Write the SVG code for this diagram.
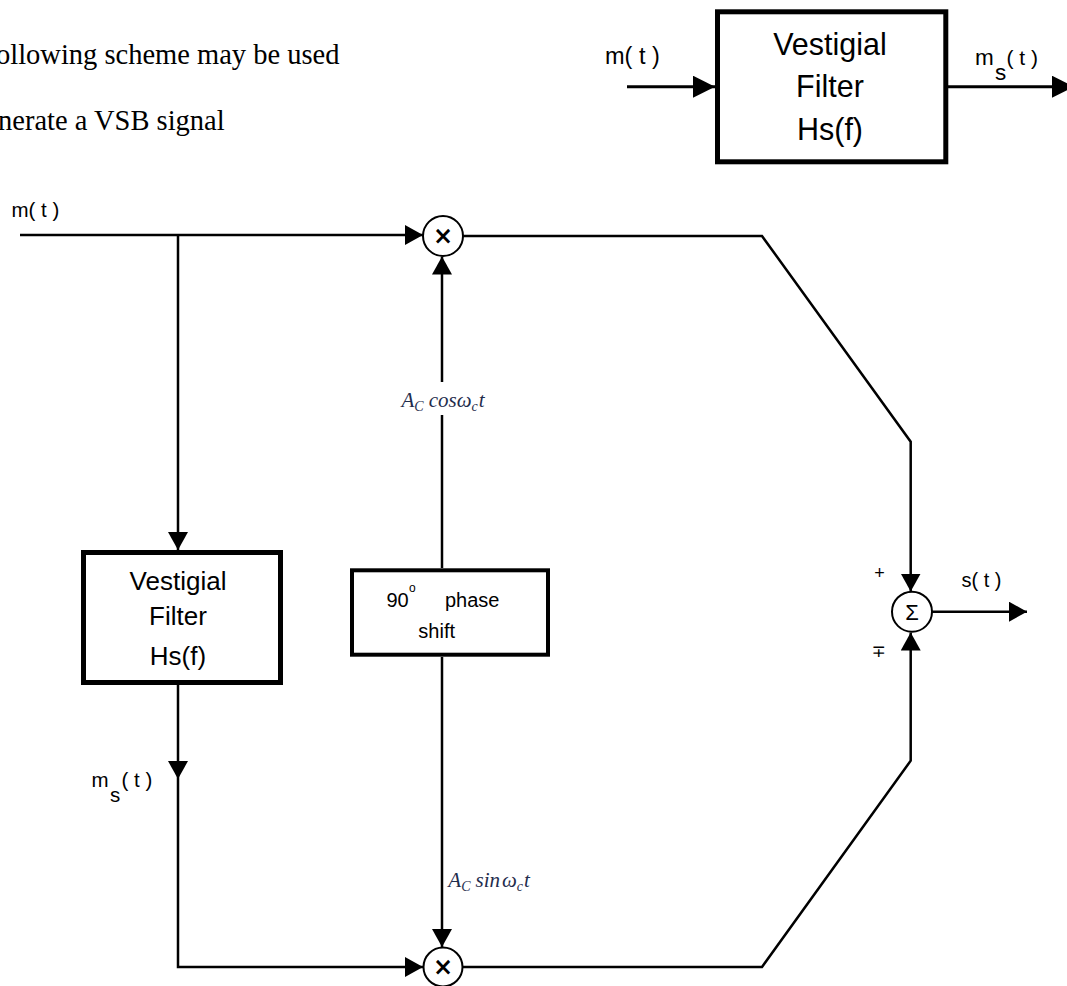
<svg xmlns="http://www.w3.org/2000/svg" width="1067" height="986" viewBox="0 0 1067 986">
<style>
.ln{fill:none;stroke:#000;stroke-width:2.5;stroke-linejoin:miter}
.lnT{fill:none;stroke:#000;stroke-width:3}
.box{fill:#fff;stroke:#000;stroke-width:5}
.box2{fill:#fff;stroke:#000;stroke-width:4}
.circ{fill:#fff;stroke:#000;stroke-width:2}
.prose{font-family:"Liberation Serif","Times New Roman",serif;font-size:28.5px;fill:#000}
.bl{font-family:"Liberation Sans",Arial,sans-serif;fill:#000}
.lab{font-family:"Liberation Sans",Arial,sans-serif;fill:#000}
.math{font-family:"Liberation Serif","Times New Roman",serif;font-style:italic;fill:#1f2d4d}
.sym{font-family:"DejaVu Sans",sans-serif;fill:#000;text-anchor:middle}
</style>
<defs>
<marker id="ah" viewBox="0 0 18 20" refX="18" refY="10" markerWidth="18" markerHeight="20" markerUnits="userSpaceOnUse" orient="auto"><path d="M0,0L18,10L0,20z" fill="#000"/></marker>
<marker id="ahL" viewBox="0 0 22 22" refX="22" refY="11" markerWidth="22" markerHeight="22" markerUnits="userSpaceOnUse" orient="auto"><path d="M0,0L22,11L0,22z" fill="#000"/></marker>
</defs>
<rect width="1067" height="986" fill="#fff"/>

<g id="prose">
<text class="prose" x="-4" y="64">ollowing scheme may be used</text>
<text class="prose" x="-2" y="130">nerate a VSB signal</text>
</g>

<g id="connectors">
<line class="lnT" x1="627" y1="86.7" x2="715" y2="86.7" marker-end="url(#ahL)"/>
<line class="lnT" x1="946" y1="86.7" x2="1074" y2="86.7" marker-end="url(#ahL)"/>
<line class="ln" x1="20" y1="235" x2="423" y2="235" marker-end="url(#ah)"/>
<line class="ln" x1="178" y1="235" x2="178" y2="550" marker-end="url(#ah)"/>
<line class="ln" x1="178" y1="685" x2="178" y2="779" marker-end="url(#ah)"/>
<polyline class="ln" points="178,779 178,967 423,967" marker-end="url(#ah)"/>
<line class="ln" x1="442" y1="568" x2="442" y2="415"/>
<line class="ln" x1="442" y1="382" x2="442" y2="256.5" marker-end="url(#ah)"/>
<line class="ln" x1="442" y1="657" x2="442" y2="947" marker-end="url(#ah)"/>
<polyline class="ln" points="463,236 762,236 910.7,441.7 910.7,591.5" marker-end="url(#ah)"/>
<polyline class="ln" points="463,967 762,967 910.7,760.7 910.7,632.5" marker-end="url(#ah)"/>
<line class="ln" x1="932" y1="611.7" x2="1027" y2="611.7" marker-end="url(#ah)"/>
</g>

<g id="filter-top">
<rect class="box" x="717.5" y="11.8" width="228.3" height="150"/>
<text class="bl" font-size="30.5" text-anchor="middle" x="830" y="55">Vestigial</text>
<text class="bl" font-size="30.5" text-anchor="middle" x="830" y="97">Filter</text>
<text class="bl" font-size="30.5" text-anchor="middle" x="830" y="140">Hs(f)</text>
</g>
<g id="labels-top">
<text class="lab" font-size="23.5" x="605" y="63.5">m( t )</text>
<text class="lab" font-size="22.5" x="975" y="65">m</text>
<text class="lab" font-size="22.5" x="995" y="80">s</text>
<text class="lab" font-size="21" x="1006.5" y="65">( t )</text>
</g>

<g id="mult-top">
<circle class="circ" cx="443" cy="236" r="20"/>
<text class="sym" font-size="24" font-weight="bold" x="443" y="244">×</text>
</g>
<g id="mult-bottom">
<circle class="circ" cx="443" cy="967" r="19.5"/>
<text class="sym" font-size="24" font-weight="bold" x="443" y="975">×</text>
</g>
<g id="sum">
<circle class="circ" cx="912" cy="611.7" r="20"/>
<text class="bl" font-size="22" text-anchor="middle" x="912" y="619.5">Σ</text>
<text class="bl" font-size="18" text-anchor="middle" x="879.5" y="579">+</text>
<text class="sym" font-size="17" x="878.5" y="657">∓</text>
</g>

<g id="filter-left">
<rect class="box" x="83.5" y="552.5" width="197" height="130"/>
<text class="bl" font-size="26" text-anchor="middle" x="178" y="590">Vestigial</text>
<text class="bl" font-size="26" text-anchor="middle" x="178" y="625">Filter</text>
<text class="bl" font-size="26" text-anchor="middle" x="178" y="665">Hs(f)</text>
</g>

<g id="phase-shift">
<rect class="box2" x="352" y="570.3" width="196" height="84.4"/>
<text class="bl" font-size="20" x="386.5" y="606.7">90</text>
<text class="bl" font-size="12" x="409" y="592">o</text>
<text class="bl" font-size="20" x="445" y="606.7">phase</text>
<text class="bl" font-size="20" text-anchor="middle" x="436.7" y="638">shift</text>
</g>

<g id="labels-main">
<text class="lab" font-size="20.5" x="11.5" y="216.5">m( t )</text>
<text class="lab" font-size="20.5" x="91.5" y="786.7">m</text>
<text class="lab" font-size="20.5" x="110" y="801.7">s</text>
<text class="lab" font-size="20.5" x="121.5" y="786.7">( t )</text>
<text class="lab" font-size="20" x="961.5" y="586.7">s( t )</text>
<text class="math" font-size="21" x="401.5" y="406.7">A<tspan font-size="14" dy="4">C</tspan><tspan dy="-4" dx="5">cos</tspan>ω<tspan font-size="14" dy="4">c</tspan><tspan dy="-4" dx="1">t</tspan></text>
<text class="math" font-size="21" x="448.3" y="887.3">A<tspan font-size="14" dy="4">C</tspan><tspan dy="-4" dx="5">sin</tspan><tspan dx="2">ω</tspan><tspan font-size="14" dy="4">c</tspan><tspan dy="-4" dx="1">t</tspan></text>
</g>
</svg>
